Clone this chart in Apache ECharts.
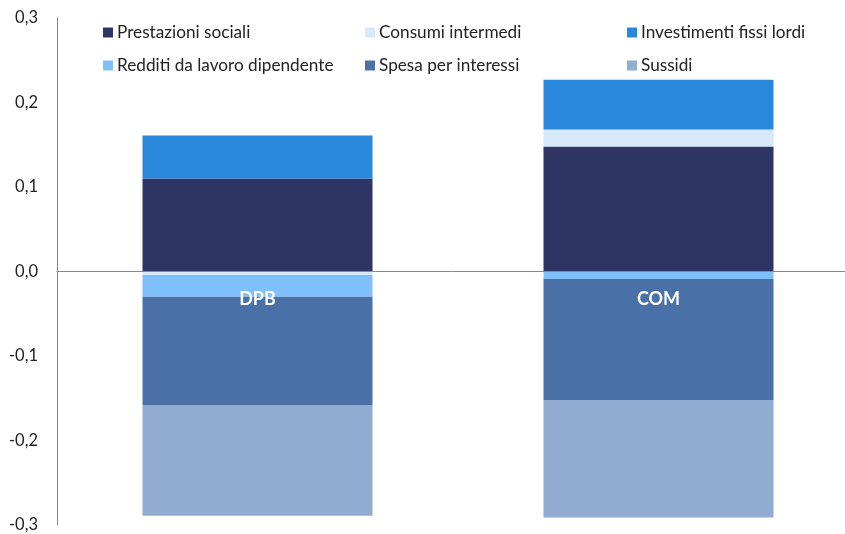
<!DOCTYPE html>
<html><head><meta charset="utf-8">
<script src="https://cdn.jsdelivr.net/npm/echarts@6/dist/echarts.min.js"></script>
<style>html,body{margin:0;padding:0;background:#fff}#c{width:845px;height:534px}</style>
</head><body><div id="c"></div>
<script>
var categories = ['DPB', 'COM'];
var seriesNames = ['Prestazioni sociali', 'Consumi intermedi', 'Investimenti fissi lordi', 'Redditi da lavoro dipendente', 'Spesa per interessi', 'Sussidi'];
var prestazioni = [0.110, 0.148];
var consumi = [-0.004, 0.020];
var investimenti = [0.051, 0.059];
var redditi = [-0.026, -0.009];
var spesa = [-0.128, -0.143];
var sussidi = [-0.131, -0.139];
var yTicks = [-0.3, -0.2, -0.1, 0, 0.1, 0.2, 0.3];

var colors = ['#2E3464', '#D6EAFB', '#2988DC', '#80C0FA', '#4A70A8', '#92ABD0'];
var values = [prestazioni, consumi, investimenti, redditi, spesa, sussidi];
var font = 'Lato, Liberation Sans, Arial, sans-serif';

var legendPos = [[98, 19], [360, 19], [622, 19], [98, 52], [360, 52], [622, 52]];
var legends = seriesNames.map(function (n, i) {
  return {
    data: [n], left: legendPos[i][0], top: legendPos[i][1], icon: 'rect',
    itemWidth: 10, itemHeight: 10, itemGap: 4, selectedMode: false,
    textStyle: { fontFamily: font, fontSize: 17.2, color: '#222', padding: [0, 0, 0, -1] }
  };
});

var chart = echarts.init(document.getElementById('c'), null, { renderer: 'canvas' });
chart.setOption({
  animation: false,
  legend: legends,
  grid: { left: 57, top: 18, width: 802, height: 507, containLabel: false, outerBoundsMode: 'none' },
  xAxis: [{
    type: 'category', data: categories, z: 10,
    axisLine: { onZero: true, lineStyle: { color: '#888', width: 1 } },
    axisTick: { show: false },
    axisLabel: { show: false }
  }, {
    type: 'category', data: categories, position: 'bottom', offset: -253.5, zlevel: 1,
    axisLine: { show: false, onZero: false },
    axisTick: { show: false },
    axisLabel: { show: true, color: '#fff', fontWeight: 'bold', fontSize: 18, fontFamily: font, margin: 19, hideOverlap: false }
  }],
  yAxis: {
    type: 'value', min: -0.3, max: 0.3, interval: 0.1,
    axisLine: { show: true, lineStyle: { color: '#888' } },
    axisTick: { show: false },
    splitLine: { show: false },
    axisLabel: {
      color: '#222', fontSize: 16.5, fontFamily: font, margin: 19,
      formatter: function (v) {
        var t = yTicks.reduce(function (a, b) { return Math.abs(b - v) < Math.abs(a - v) ? b : a; });
        return t.toFixed(1).replace('.', ',');
      }
    }
  },
  series: seriesNames.map(function (n, i) {
    return {
      name: n, type: 'bar', stack: 'tot', data: values[i], barWidth: 230, xAxisIndex: 0,
      itemStyle: { color: colors[i] }
    };
  })
});
</script></body></html>
